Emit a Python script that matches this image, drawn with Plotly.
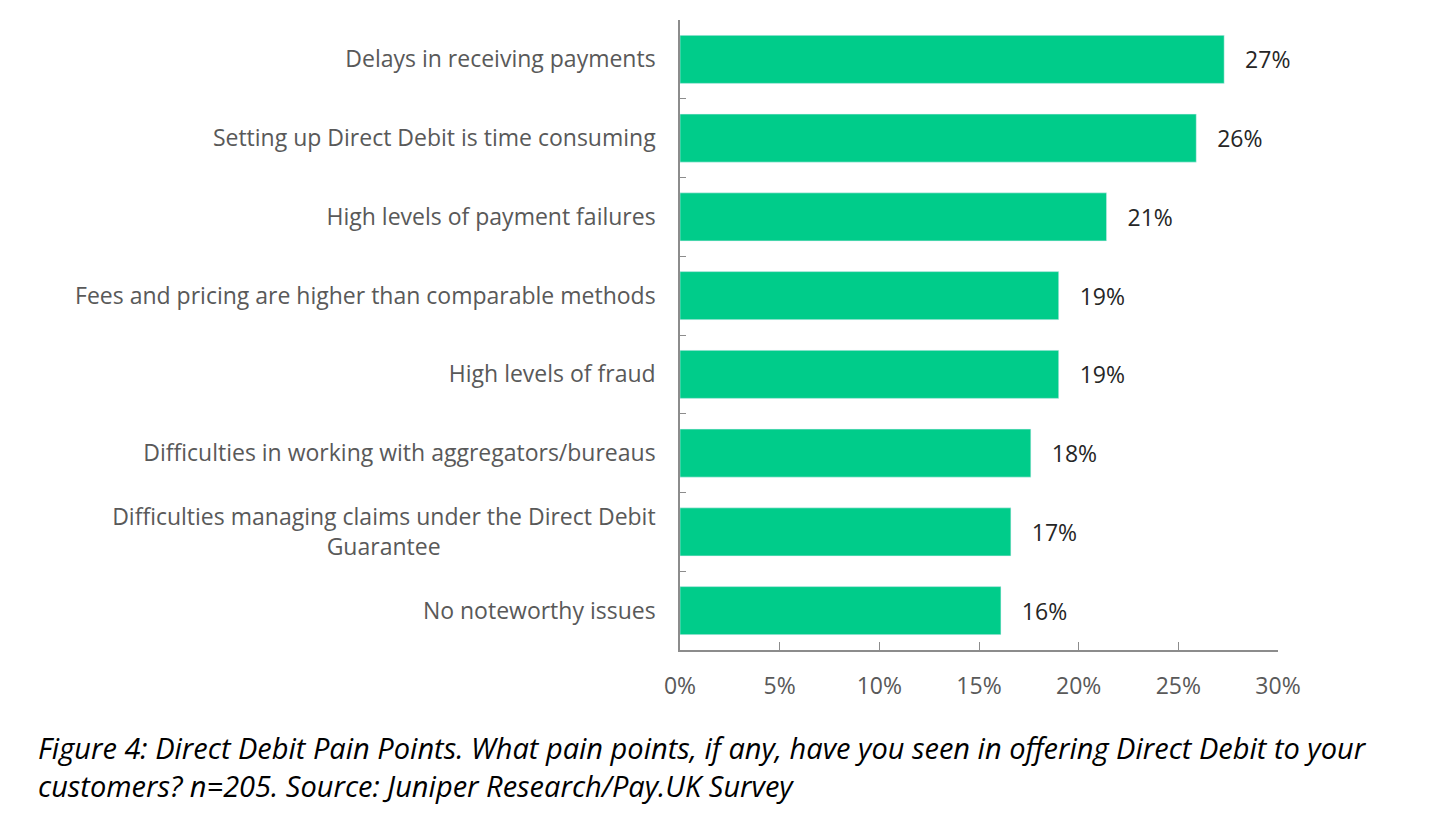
import plotly.graph_objects as go

# categories top -> bottom
categories = [
    "Delays in receiving payments",
    "Setting up Direct Debit is time consuming",
    "High levels of payment failures",
    "Fees and pricing are higher than comparable methods",
    "High levels of fraud",
    "Difficulties in working with aggregators/bureaus",
    "Difficulties managing claims under the Direct Debit<br>Guarantee" + "\u00a0" * 36,
    "No noteworthy issues",
]
shares = [27.3, 25.9, 21.4, 19.0, 19.0, 17.6, 16.6, 16.1]
x_ticks = [0, 5, 10, 15, 20, 25, 30]
x_tick_labels = ["0%", "5%", "10%", "15%", "20%", "25%", "30%"]

caption = ("Figure 4: Direct Debit Pain Points. What pain points, if any, have you seen in offering Direct Debit to your"
           "<br>customers? n=205. Source: Juniper Research/Pay.UK Survey")

fig = go.Figure(go.Bar(
    x=shares,
    y=categories,
    orientation="h",
    marker=dict(color="#00cc8a"),
    text=["\u00a0\u00a0\u00a0%d%%" % round(v) for v in shares],
    textposition="outside",
    textfont=dict(family="Open Sans", size=23, color="#262626"),
    cliponaxis=False,
    hoverinfo="skip",
))

# page body has an 8px margin, so the margins are shifted by 8px
fig.update_layout(
    width=1456, height=825,
    margin=dict(l=672, r=186, t=12, b=183),
    paper_bgcolor="white",
    plot_bgcolor="white",
    showlegend=False,
    bargap=0.39,
    font=dict(family="Open Sans", color="#595959"),
    title=dict(
        text="<i>" + caption + "</i>",
        x=30 / 1456, xanchor="left", xref="container",
        y=1 - 751 / 825, yanchor="middle", yref="container",
        font=dict(family="Open Sans", size=29, color="#000000"),
    ),
)

fig.update_xaxes(
    range=[0, 30],
    tickvals=x_ticks,
    ticktext=x_tick_labels,
    showgrid=False,
    zeroline=False,
    showline=True,
    linecolor="#8c8c8c",
    linewidth=1.5,
    ticks="inside",
    ticklen=8,
    tickcolor="#8c8c8c",
    tickfont=dict(family="Open Sans", size=23, color="#595959"),
    ticklabelstandoff=15,
)

fig.update_yaxes(
    categoryorder="array",
    categoryarray=categories[::-1],
    showgrid=False,
    zeroline=False,
    showline=True,
    linecolor="#8c8c8c",
    linewidth=1.5,
    ticks="inside",
    tickson="boundaries",
    ticklen=6,
    tickcolor="#8c8c8c",
    tickfont=dict(family="Open Sans", size=23, color="#595959"),
    ticklabelstandoff=18,
)

fig.write_html("out.html")
